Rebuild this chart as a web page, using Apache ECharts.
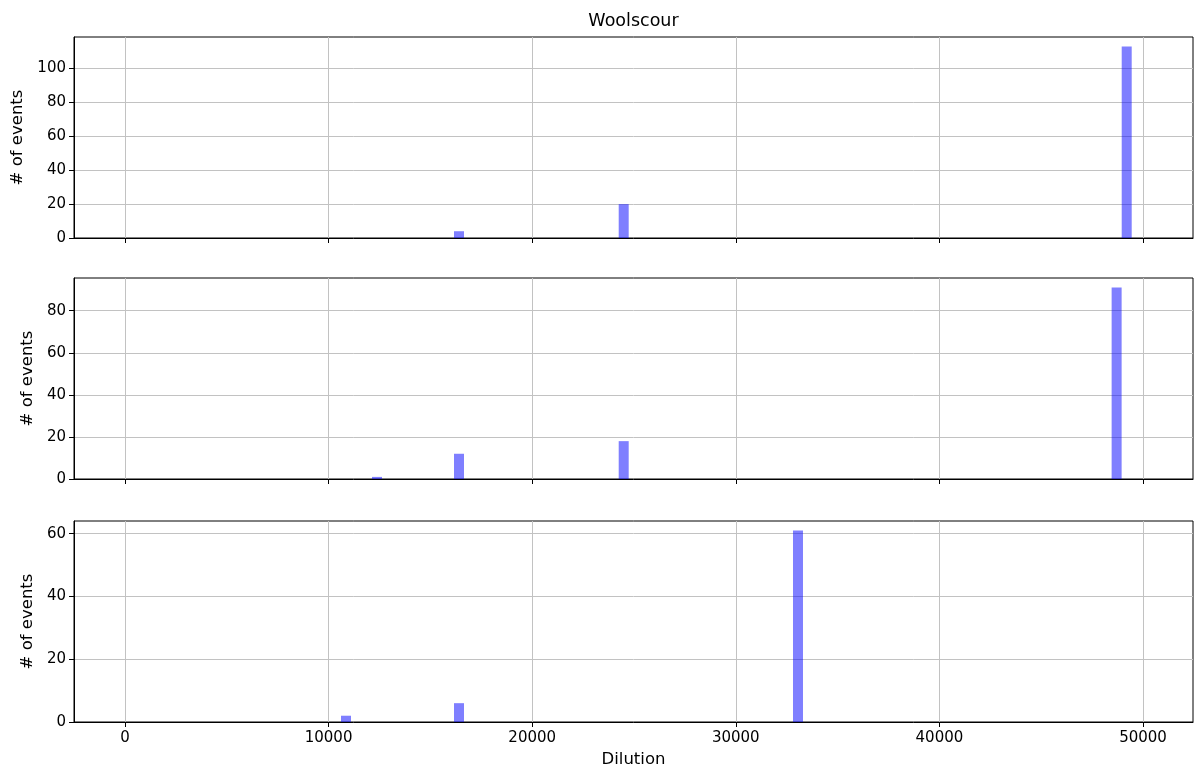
<!DOCTYPE html>
<html>
<head>
<meta charset="utf-8">
<script src="https://cdn.jsdelivr.net/npm/echarts@6/dist/echarts.min.js"></script>
<style>html,body{margin:0;padding:0;background:#fff;}#c{width:1198px;height:772px;}</style>
</head>
<body>
<div id="c"></div>
<script>
// ---- data ----
const titleText = "Woolscour";
const xName = "Dilution";
const yName = "# of events";
const binWidth = 491;
const centers1 = [16405, 24494, 49200];
const counts1 = [4, 20, 113];
const centers2 = [12377, 16405, 24494, 48705];
const counts2 = [1, 12, 18, 91];
const centers3 = [10855, 16405, 33055];
const counts3 = [2, 6, 61];
const xTicks = [0, 10000, 20000, 30000, 40000, 50000];
const yTicks1 = [0, 20, 40, 60, 80, 100];
const yTicks2 = [0, 20, 40, 60, 80];
const yTicks3 = [0, 20, 40, 60];

const chart = echarts.init(document.getElementById('c'), null, {renderer: 'canvas'});
const font = 'DejaVu Sans';
const barColor = 'rgba(0,0,255,0.5)';
const gridColor = '#c2c2c2';

const grids = [
  {left: 74, right: 5, top: 37, height: 201},
  {left: 74, right: 5, top: 278, height: 201},
  {left: 74, right: 5, top: 521, height: 201}
].map(g => Object.assign({show: true, borderColor: '#000', borderWidth: 1, backgroundColor: 'transparent', containLabel: false}, g));

function xAxis(i, showLabels) {
  return {
    type: 'value', gridIndex: i, min: -2505, max: 52456,
    name: showLabels ? xName : '', nameLocation: 'middle', nameGap: 29,
    nameTextStyle: {fontFamily: font, fontSize: 16.5, color: '#000'},
    axisLine: {show: true, onZero: false, lineStyle: {color: '#000', width: 1}},
    axisTick: {show: true, length: 5, customValues: xTicks, lineStyle: {color: '#000'}},
    axisLabel: {show: showLabels, customValues: xTicks, margin: 9, fontFamily: font, fontSize: 15, color: '#000',
      formatter: v => String(v)},
    splitLine: {show: true, lineStyle: {color: gridColor, width: 1}}
  };
}
function yAxis(i, maxV, ticks, gap) {
  return {
    type: 'value', gridIndex: i, min: 0, max: maxV,
    name: yName, nameLocation: 'middle', nameGap: gap,
    nameTextStyle: {fontFamily: font, fontSize: 16.5, color: '#000'},
    axisLine: {show: true, onZero: false, lineStyle: {color: '#000', width: 1}},
    axisTick: {show: true, length: 5, customValues: ticks, lineStyle: {color: '#000'}},
    axisLabel: {show: true, customValues: ticks, margin: 8, fontFamily: font, fontSize: 15, color: '#000',
      formatter: v => String(v)},
    splitLine: {show: true, lineStyle: {color: gridColor, width: 1}}
  };
}
function makeData(centers, counts) {
  return centers.map((c, k) => [c - binWidth / 2, c + binWidth / 2, counts[k]]);
}
function histSeries(i, centers, counts) {
  return {
    type: 'custom', xAxisIndex: i, yAxisIndex: i,
    data: makeData(centers, counts),
    encode: {x: [0, 1], y: 2},
    renderItem: function (params, api) {
      const p0 = api.coord([api.value(0), api.value(2)]);
      const p1 = api.coord([api.value(1), 0]);
      return {
        type: 'rect',
        shape: {x: p0[0], y: p0[1], width: p1[0] - p0[0], height: p1[1] - p0[1]},
        style: {fill: barColor}
      };
    },
    z: 3
  };
}

chart.setOption({
  animation: false,
  backgroundColor: '#fff',
  grid: grids,
  xAxis: [xAxis(0, false), xAxis(1, false), xAxis(2, true)],
  yAxis: [yAxis(0, 118.65, yTicks1, 47), yAxis(1, 95.55, yTicks2, 38), yAxis(2, 64.05, yTicks3, 38)],
  series: [histSeries(0, centers1, counts1), histSeries(1, centers2, counts2), histSeries(2, centers3, counts3)],
  graphic: [{
    type: 'text', x: 633.5, y: 21,
    style: {text: titleText, fontFamily: font, fontSize: 17.5, fill: '#000', textAlign: 'center', textVerticalAlign: 'middle'}
  }]
});
</script>
</body>
</html>
